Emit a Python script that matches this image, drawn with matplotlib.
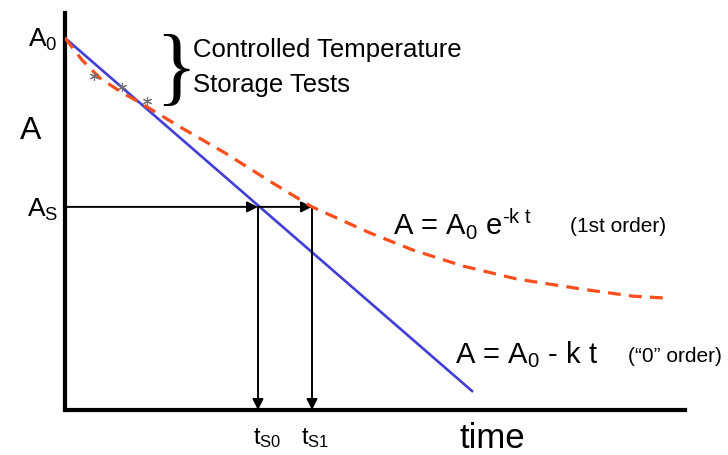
import matplotlib
matplotlib.use('Agg')
import matplotlib.pyplot as plt

plt.rcParams['font.family'] = ['Liberation Sans', 'DejaVu Sans']
plt.rcParams['mathtext.fontset'] = 'custom'
plt.rcParams['mathtext.rm'] = 'Liberation Sans'
plt.rcParams['mathtext.default'] = 'regular'

# zero order (linear) decay
t_zero = [0.0, 6.565]
a_zero = [1.0, 0.051]

# first order decay
t_first = [0.0, 0.274, 0.565, 0.903, 1.242, 1.855, 2.581, 3.274, 3.984,
           4.919, 5.613, 6.419, 7.290, 8.419, 9.161, 9.677]
a_first = [1.000, 0.941, 0.892, 0.855, 0.823, 0.761, 0.691, 0.618, 0.546,
           0.476, 0.430, 0.387, 0.352, 0.323, 0.306, 0.301]

# storage test points
t_tests = [0.468, 0.919, 1.323]
a_tests = [0.898, 0.868, 0.831]

a_spec = 0.546
t_s0 = 3.113
t_s1 = 3.984

W, H = 728, 455
fig = plt.figure(figsize=(W / 100, H / 100), dpi=100)
ax = fig.add_axes([65 / W, (H - 410) / H, (685 - 65) / W, (410 - 13) / H])
ax.set_xlim(0, 10)
ax.set_ylim(0, 397 / 372)
for s in ['top', 'right']:
    ax.spines[s].set_visible(False)
for s in ['left', 'bottom']:
    ax.spines[s].set_linewidth(3)
ax.set_xticks([])
ax.set_yticks([])

ax.plot(t_zero, a_zero, color='#3f3fd8', lw=1.9, zorder=3)
ax.plot(t_first, a_first, color='#fb4e1c', lw=2.3, dashes=(4, 2.6), zorder=4)
ax.plot(t_tests, a_tests, ls='none', marker=(6, 2, 0), ms=6.5, mec='#707070',
        mew=0.8, zorder=5)

arrow = dict(arrowstyle='-|>', color='black', lw=1.4, mutation_scale=16,
             shrinkA=0, shrinkB=0)
ax.annotate('', xy=(t_s0, a_spec), xytext=(0, a_spec), arrowprops=arrow)
ax.annotate('', xy=(t_s1, a_spec), xytext=(t_s0, a_spec), arrowprops=arrow)
ax.annotate('', xy=(t_s0, 0), xytext=(t_s0, a_spec), arrowprops=arrow)
ax.annotate('', xy=(t_s1, 0), xytext=(t_s1, a_spec), arrowprops=arrow)


def label(x, y, s, size, **kw):
    fig.text(x / W, 1 - y / H, s, fontsize=size, ha='left', va='center', **kw)


label(28, 40, 'A$_0$', 19)
label(20, 131, 'A', 23)
label(27, 210, 'A$_S$', 19)
label(193, 50, 'Controlled Temperature', 18.5)
label(193, 85, 'Storage Tests', 18.5)
fig.text(176 / W, 1 - 73 / H, '}', fontsize=62, ha='center', va='center',
         family='Liberation Serif')
label(393, 224, 'A = A$_0$ e$^{\\text{-k t}}$', 21)
label(570, 227, '(1st order)', 15)
label(455, 355, 'A = A$_0$ - k t', 21)
label(628, 357, '(\u201c0\u201d order)', 15)
label(253, 438, 't$_{S0}$', 17)
label(301, 438, 't$_{S1}$', 17)
label(459, 438, 'time', 25)

fig.savefig('out.png', dpi=100)
